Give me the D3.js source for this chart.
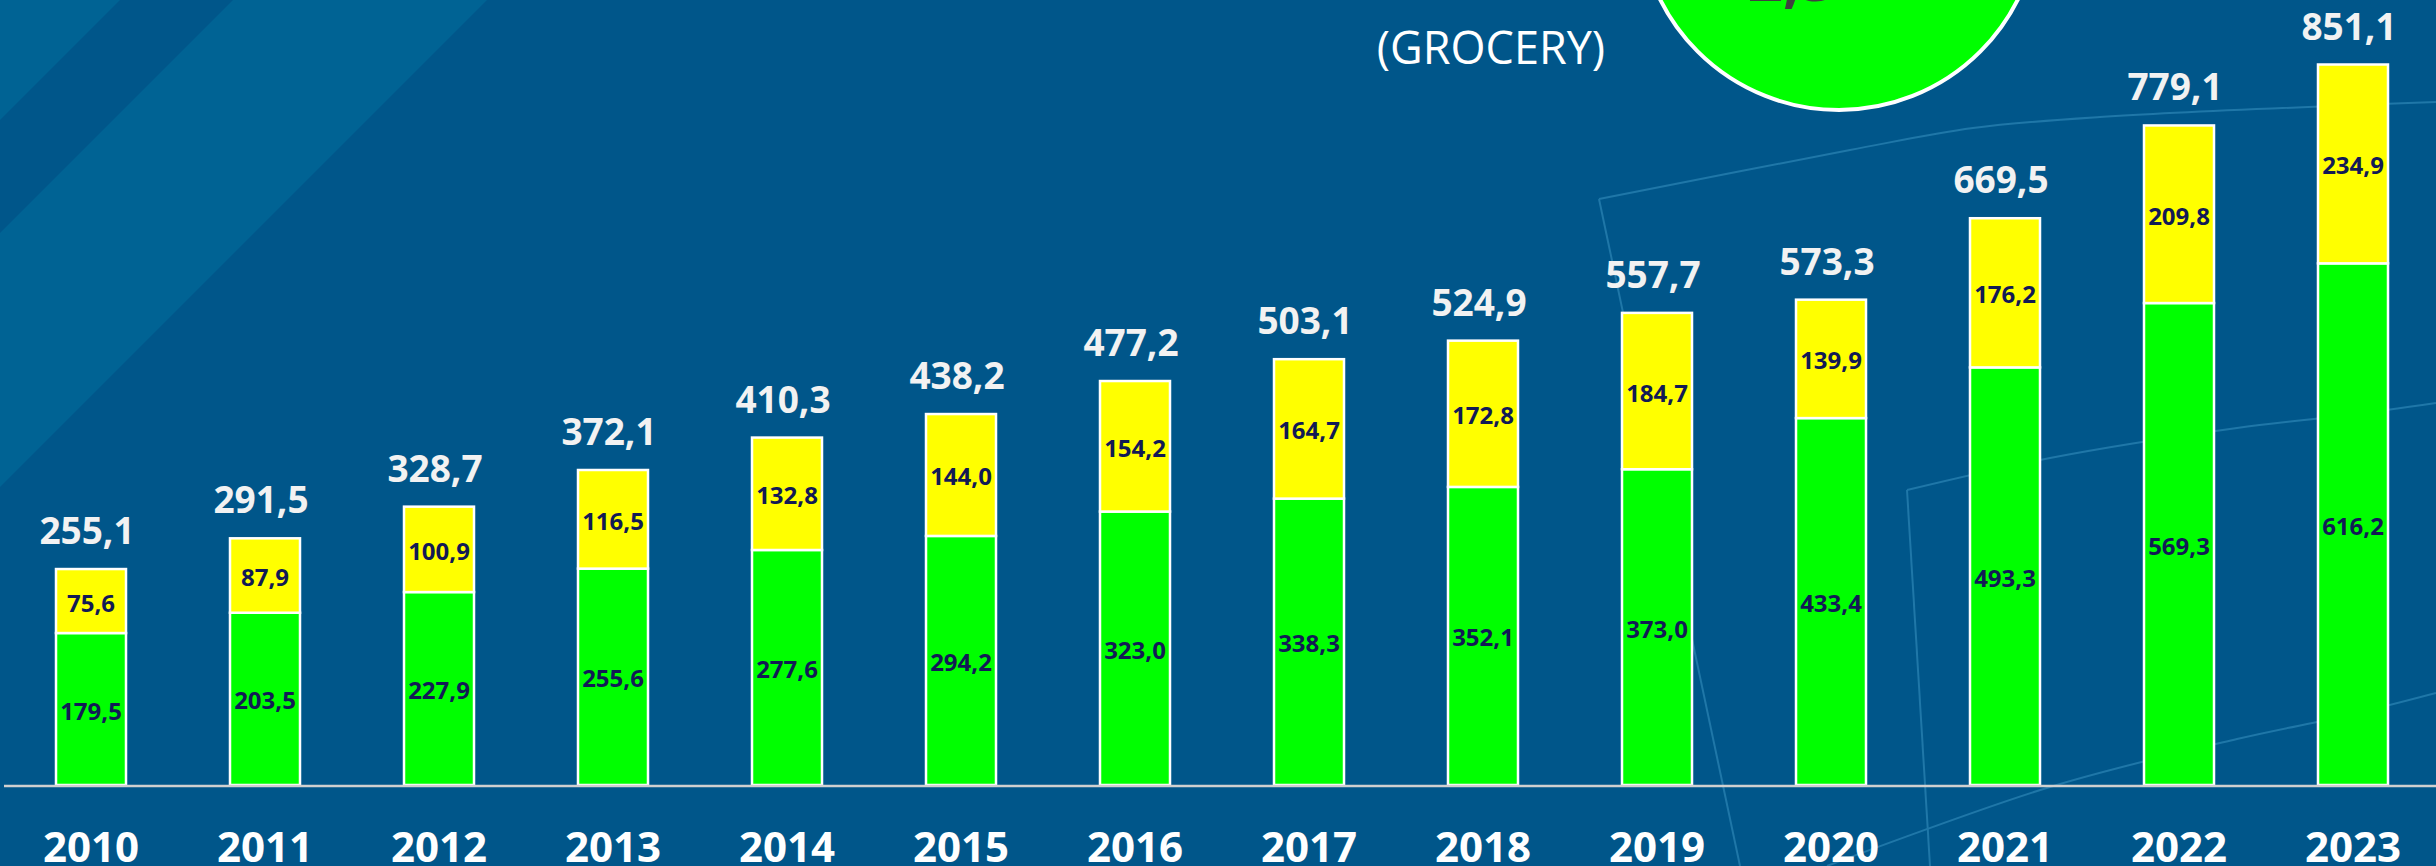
<!DOCTYPE html>
<html>
<head>
<meta charset="utf-8">
<script src="https://cdn.jsdelivr.net/npm/d3@7"></script>
<style>
  html, body { margin: 0; padding: 0; background: #00568a; overflow: hidden; }
  svg { display: block; }
</style>
</head>
<body>
<div id="chart"></div>
<script>
// values
const years = ["2010","2011","2012","2013","2014","2015","2016","2017","2018","2019","2020","2021","2022","2023"];
const greenVals = [179.5, 203.5, 227.9, 255.6, 277.6, 294.2, 323.0, 338.3, 352.1, 373.0, 433.4, 493.3, 569.3, 616.2];
const yellowVals = [75.6, 87.9, 100.9, 116.5, 132.8, 144.0, 154.2, 164.7, 172.8, 184.7, 139.9, 176.2, 209.8, 234.9];
const totals = [255.1, 291.5, 328.7, 372.1, 410.3, 438.2, 477.2, 503.1, 524.9, 557.7, 573.3, 669.5, 779.1, 851.1];

const W = 2436, H = 866;
const fmt = v => v.toFixed(1).replace(".", ",");

const svg = d3.select("#chart").append("svg")
    .attr("width", W)
    .attr("height", H);

// background + diagonal stripes
svg.append("rect").attr("width", W).attr("height", H).attr("fill", "#00568a");
const stripes = [
    [[0,0],[120,0],[0,120]],
    [[233,0],[487,0],[0,487],[0,233]]
];
svg.selectAll("polygon.stripe").data(stripes).enter().append("polygon")
    .attr("class", "stripe")
    .attr("points", d => d.map(p => p.join(",")).join(" "))
    .attr("fill", "#006394");

// faint decorative lines on the right
const deco = [
    [[1599,199],[1850,150],[1973,128],[2100,117],[2436,102]],
    [[1599,199],[1740,866]],
    [[1907,490],[2050,458],[2237,428],[2349,415],[2436,403]],
    [[1907,490],[1930,866]],
    [[1827,866],[2050,787],[2237,739],[2349,715],[2436,693]]
];
const decoLine = d3.line().curve(d3.curveCatmullRom);
svg.selectAll("path.deco").data(deco).enter().append("path")
    .attr("class", "deco")
    .attr("d", decoLine)
    .attr("fill", "none")
    .attr("stroke", "#1f77a8")
    .attr("stroke-width", 2);

// green badge at the top (its text is cut off by the top edge)
svg.append("circle")
    .attr("cx", 1839).attr("cy", -90).attr("r", 200)
    .attr("fill", "#00ff00")
    .attr("stroke", "#ffffff")
    .attr("stroke-width", 4);
svg.append("text")
    .attr("x", 1712).attr("y", 1)
    .attr("font-family", "Open Sans, sans-serif")
    .attr("font-weight", 700)
    .attr("font-size", 62)
    .attr("fill", "#404040")
    .text("+2,3");

svg.append("text")
    .attr("x", 1491).attr("y", 64)
    .attr("text-anchor", "middle")
    .attr("font-family", "Open Sans, sans-serif")
    .attr("font-size", 45)
    .attr("fill", "#ffffff")
    .text("(GROCERY)");

// scales
const x = d3.scaleBand()
    .domain(years)
    .range([4, 4 + 14 * 174])
    .paddingInner(104 / 174)
    .paddingOuter(52 / 174);

const y = d3.scaleLinear()
    .domain([0, 851.1])
    .range([785, 64.5]);

const rows = years.map((yr, i) => ({
    year: yr, g: greenVals[i], yl: yellowVals[i], total: totals[i]
}));

const bar = svg.selectAll("g.bar").data(rows).enter().append("g").attr("class", "bar");

bar.append("rect")
    .attr("x", d => x(d.year))
    .attr("width", x.bandwidth())
    .attr("y", d => y(d.g))
    .attr("height", d => y(0) - y(d.g))
    .attr("fill", "#00ff00")
    .attr("stroke", "#ffffff")
    .attr("stroke-width", 2.5);

bar.append("rect")
    .attr("x", d => x(d.year))
    .attr("width", x.bandwidth())
    .attr("y", d => y(d.g + d.yl))
    .attr("height", d => y(d.g) - y(d.g + d.yl))
    .attr("fill", "#ffff00")
    .attr("stroke", "#ffffff")
    .attr("stroke-width", 2.5);

const inner = sel => sel
    .attr("text-anchor", "middle")
    .attr("dominant-baseline", "central")
    .attr("font-family", "Open Sans, sans-serif")
    .attr("font-weight", 700)
    .attr("font-size", 24)
    .attr("fill", "#121a55");

bar.append("text").call(inner)
    .attr("x", d => x(d.year) + x.bandwidth() / 2)
    .attr("y", d => (y(0) + y(d.g)) / 2 + 1)
    .text(d => fmt(d.g));

bar.append("text").call(inner)
    .attr("x", d => x(d.year) + x.bandwidth() / 2)
    .attr("y", d => (y(d.g) + y(d.g + d.yl)) / 2 + 1)
    .text(d => fmt(d.yl));

bar.append("text")
    .attr("x", d => x(d.year) + x.bandwidth() / 2 - 4)
    .attr("y", d => y(d.total) - 25)
    .attr("text-anchor", "middle")
    .attr("font-family", "Open Sans, sans-serif")
    .attr("font-weight", 700)
    .attr("font-size", 37)
    .attr("fill", "#f2f2f2")
    .text(d => fmt(d.total));

// baseline
svg.append("line")
    .attr("x1", 4).attr("x2", W)
    .attr("y1", y(0) + 1).attr("y2", y(0) + 1)
    .attr("stroke", "#d0d0d0")
    .attr("stroke-width", 2.5);

// year labels
const xAxis = d3.axisBottom(x).tickSize(0).tickPadding(0);
const axisG = svg.append("g")
    .attr("transform", `translate(0, ${y(0)})`)
    .call(xAxis);
axisG.select(".domain").remove();
axisG.selectAll("text")
    .attr("dy", null)
    .attr("y", 77)
    .attr("font-family", "Open Sans, sans-serif")
    .attr("font-weight", 700)
    .attr("font-size", 42)
    .attr("fill", "#ffffff");
</script>
</body>
</html>
